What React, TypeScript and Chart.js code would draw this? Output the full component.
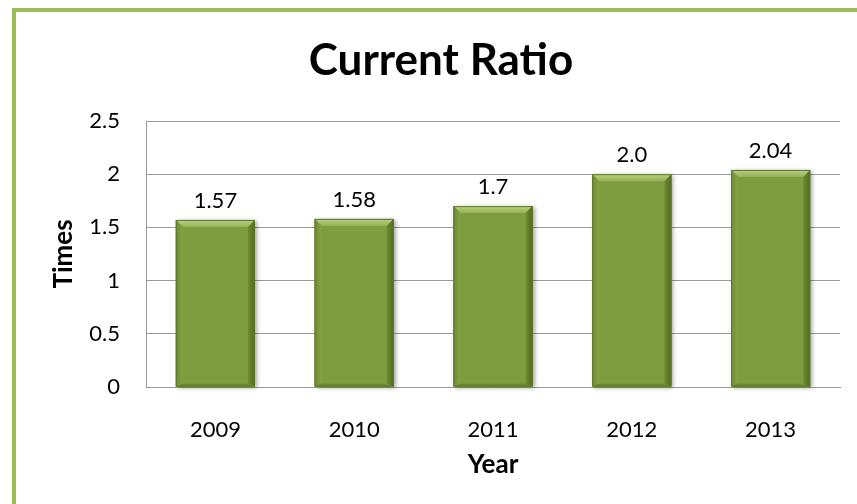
import React, { useEffect, useRef } from "react";
import { Chart, registerables } from "chart.js";

Chart.register(...registerables);

const categories = ["2009", "2010", "2011", "2012", "2013"];
const ratioValues = [1.57, 1.58, 1.7, 2.0, 2.04];
const valueLabels = ["1.57", "1.58", "1.7", "2.0", "2.04"];
const yTickValues = [0, 0.5, 1, 1.5, 2, 2.5];
const chartTitle = "Current Ratio";
const xAxisTitle = "Year";
const yAxisTitle = "Times";

const FONT = "Lato, 'Open Sans', sans-serif";

const bevelPlugin = {
  id: "bevelBars",
  afterDatasetsDraw(chart: any) {
    const ctx = chart.ctx;
    const meta = chart.getDatasetMeta(0);
    meta.data.forEach((bar: any, i: number) => {
      const { x, y, base, width } = bar.getProps(["x", "y", "base", "width"], true);
      const l = x - width / 2;
      const r = x + width / 2;
      const t = y;
      const b = base;
      const bv = 7;
      ctx.save();
      ctx.shadowColor = "rgba(0,0,0,0.35)";
      ctx.shadowBlur = 4;
      ctx.shadowOffsetX = 2;
      ctx.shadowOffsetY = 1;
      ctx.fillStyle = "#7F9D3F";
      ctx.fillRect(l, t, width, b - t);
      ctx.shadowColor = "transparent";
      const gTop = ctx.createLinearGradient(0, t, 0, t + bv);
      gTop.addColorStop(0, "#B8D180");
      gTop.addColorStop(1, "#95B257");
      ctx.fillStyle = gTop;
      ctx.beginPath();
      ctx.moveTo(l, t);
      ctx.lineTo(r, t);
      ctx.lineTo(r - bv, t + bv);
      ctx.lineTo(l + bv, t + bv);
      ctx.closePath();
      ctx.fill();
      const gL = ctx.createLinearGradient(l, 0, l + bv, 0);
      gL.addColorStop(0, "#6E8B33");
      gL.addColorStop(1, "#84A344");
      ctx.fillStyle = gL;
      ctx.beginPath();
      ctx.moveTo(l, t);
      ctx.lineTo(l + bv, t + bv);
      ctx.lineTo(l + bv, b - 3);
      ctx.lineTo(l, b);
      ctx.closePath();
      ctx.fill();
      const gR = ctx.createLinearGradient(r - bv, 0, r, 0);
      gR.addColorStop(0, "#6F8C33");
      gR.addColorStop(1, "#4F6A20");
      ctx.fillStyle = gR;
      ctx.beginPath();
      ctx.moveTo(r, t);
      ctx.lineTo(r - bv, t + bv);
      ctx.lineTo(r - bv, b - 3);
      ctx.lineTo(r, b);
      ctx.closePath();
      ctx.fill();
      const gB = ctx.createLinearGradient(0, b - 3, 0, b);
      gB.addColorStop(0, "#74913A");
      gB.addColorStop(1, "#5F7B2B");
      ctx.fillStyle = gB;
      ctx.beginPath();
      ctx.moveTo(l, b);
      ctx.lineTo(l + bv, b - 3);
      ctx.lineTo(r - bv, b - 3);
      ctx.lineTo(r, b);
      ctx.closePath();
      ctx.fill();
      ctx.strokeStyle = "#5C7829";
      ctx.lineWidth = 1;
      ctx.strokeRect(l + 0.5, t + 0.5, width - 1, b - t - 1);
      ctx.fillStyle = "#000";
      ctx.font = `22px ${FONT}`;
      ctx.textAlign = "center";
      ctx.textBaseline = "alphabetic";
      ctx.fillText(valueLabels[i], x, t - 12);
      ctx.restore();
    });
  },
};

export default function App() {
  const ref = useRef<HTMLCanvasElement>(null);
  useEffect(() => {
    if (!ref.current) return;
    const chart = new Chart(ref.current, {
      type: "bar",
      data: {
        labels: categories,
        datasets: [
          {
            data: ratioValues,
            backgroundColor: "#7F9D3F",
            categoryPercentage: 1,
            barPercentage: 0.57,
          },
        ],
      },
      options: {
        animation: false,
        responsive: false,
        maintainAspectRatio: false,
        layout: { padding: { left: 42, right: 17, top: 0, bottom: 0 } },
        plugins: {
          legend: { display: false },
          tooltip: { enabled: false },
          title: {
            display: true,
            text: chartTitle,
            color: "#000",
            font: { family: FONT, size: 44, weight: "bold", lineHeight: 1.2 },
            padding: { top: 34, bottom: 34.2 },
          },
        },
        scales: {
          x: {
            grid: { display: false },
            border: { display: true, color: "#9A9A9A", width: 1 },
            ticks: { color: "#000", font: { family: FONT, size: 22 }, padding: 22 },
            title: {
              display: true,
              text: xAxisTitle,
              color: "#000",
              font: { family: FONT, size: 26, weight: "bold", lineHeight: 1.2 },
              padding: { top: 0, bottom: 24 },
            },
            afterFit(scale: any) {
              scale.height = 117;
            },
          },
          y: {
            min: 0,
            max: 2.5,
            grid: { color: "#9A9A9A", lineWidth: 1, drawTicks: false },
            border: { display: true, color: "#9A9A9A", width: 1 },
            ticks: {
              stepSize: 0.5,
              color: "#000",
              font: { family: FONT, size: 22 },
              padding: 26,
              callback: (v: any) => {
                const idx = yTickValues.indexOf(Number(v));
                return idx >= 0 ? String(yTickValues[idx]) : "";
              },
            },
            title: {
              display: true,
              text: yAxisTitle,
              color: "#000",
              font: { family: FONT, size: 26, weight: "bold", lineHeight: 1.2 },
              padding: { top: 6, bottom: 0 },
            },
            afterFit(scale: any) {
              scale.width = 104;
            },
          },
        },
      },
      plugins: [bevelPlugin],
    });
    return () => chart.destroy();
  }, []);

  return (
    <div
      style={{
        position: "fixed",
        left: 0,
        top: 0,
        width: 857,
        height: 504,
        overflow: "hidden",
        background: "#fff",
      }}
    >
      <div
        style={{
          position: "absolute",
          left: 12,
          top: 8,
          width: 900,
          height: 560,
          borderTop: "4px solid #9BBB59",
          borderLeft: "4px solid #9BBB59",
          boxSizing: "border-box",
        }}
      />
      <canvas
        ref={ref}
        width={857}
        height={504}
        style={{ position: "absolute", left: 0, top: 0, width: 857, height: 504 }}
      />
    </div>
  );
}
